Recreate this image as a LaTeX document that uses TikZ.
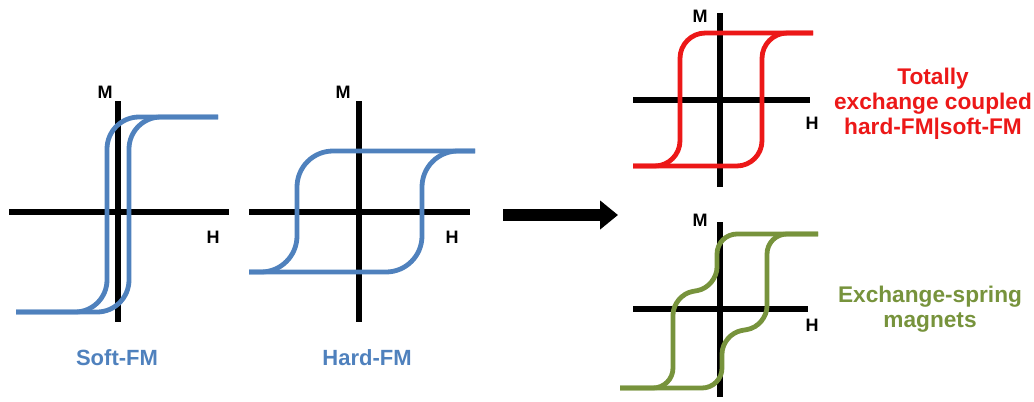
\documentclass[tikz,border=0pt]{standalone}
\usepackage{fontspec}
\setmainfont{Liberation Sans}
\usetikzlibrary{arrows.meta}
\definecolor{softblue}{RGB}{79,129,189}
\definecolor{loopred}{RGB}{236,24,24}
\definecolor{springgreen}{RGB}{119,147,60}
\begin{document}
\begin{tikzpicture}[x=0.75pt,y=-0.75pt,
  axis/.style={line width=4.5pt,black},
  loop/.style={line width=3.6pt,line join=round},
  axlabel/.style={font=\fontsize{13.5}{15}\selectfont\bfseries,inner sep=0pt},
  caption/.style={font=\fontsize{16.5}{18.4}\selectfont\bfseries,align=center,inner sep=0pt},
  sidecaption/.style={font=\fontsize{17}{18.6}\selectfont\bfseries,align=center,inner sep=0pt}]
\useasboundingbox (0,0) rectangle (1034,401);

% ---- Soft ferromagnet ----
\draw[axis] (9,212) -- (229,212);
\draw[axis] (118,101) -- (118,322);
\draw[loop,softblue,rounded corners=24pt] (218,117) -- (107,117) -- (107,312) -- (16,312);
\draw[loop,softblue,rounded corners=24pt] (16,312) -- (129,312) -- (129,117) -- (218,117);
\node[axlabel] (softM) at (105,92) {M};
\node[axlabel] (softH) at (213,237) {H};
\node[caption,text=softblue] (softcap) at (117,358) {Soft-FM};

% ---- Hard ferromagnet ----
\draw[axis] (249,212) -- (470,212);
\draw[axis] (359,101) -- (359,322);
\draw[loop,softblue,rounded corners=27pt] (475,151) -- (297,151) -- (297,272) -- (249,272);
\draw[loop,softblue,rounded corners=27pt] (249,272) -- (422,272) -- (422,151) -- (475,151);
\node[axlabel] (hardM) at (343,92) {M};
\node[axlabel] (hardH) at (452,237) {H};
\node[caption,text=softblue] (hardcap) at (367,358) {Hard-FM};

% ---- Combination arrow ----
\coordinate (arrowtail) at (503,215);
\coordinate (arrowtip) at (618,215);
\draw[line width=9pt,-{Triangle[length=13.5pt,width=21pt]}] (arrowtail) -- (arrowtip);

% ---- Totally exchange coupled ----
\draw[axis] (633,100) -- (810,100);
\draw[axis] (720,13) -- (720,187);
\draw[loop,loopred,rounded corners=19pt] (813,33) -- (680,33) -- (680,166) -- (633,166);
\draw[loop,loopred,rounded corners=19pt] (633,166) -- (762,166) -- (762,33) -- (813,33);
\node[axlabel] (coupM) at (700,16) {M};
\node[axlabel] (coupH) at (812,123) {H};
\node[sidecaption,text=loopred] (coupcap) at (933,104) {Totally\\exchange coupled\\hard-FM|soft-FM};

% ---- Exchange-spring ----
\draw[axis] (633,309) -- (808,309);
\draw[axis] (720,222) -- (720,397);
\draw[loop,springgreen,rounded corners=15pt] (818,234) -- (717,234) -- (717,287) -- (673,295) -- (673,388) -- (620,388);
\draw[loop,springgreen,rounded corners=15pt] (620,388) -- (722,388) -- (722,334) -- (767,326) -- (767,234) -- (818,234);
\node[axlabel] (springM) at (700,220) {M};
\node[axlabel] (springH) at (812,325) {H};
\node[sidecaption,text=springgreen] (springcap) at (930,309.5) {Exchange-spring\\magnets};
\end{tikzpicture}
\end{document}
